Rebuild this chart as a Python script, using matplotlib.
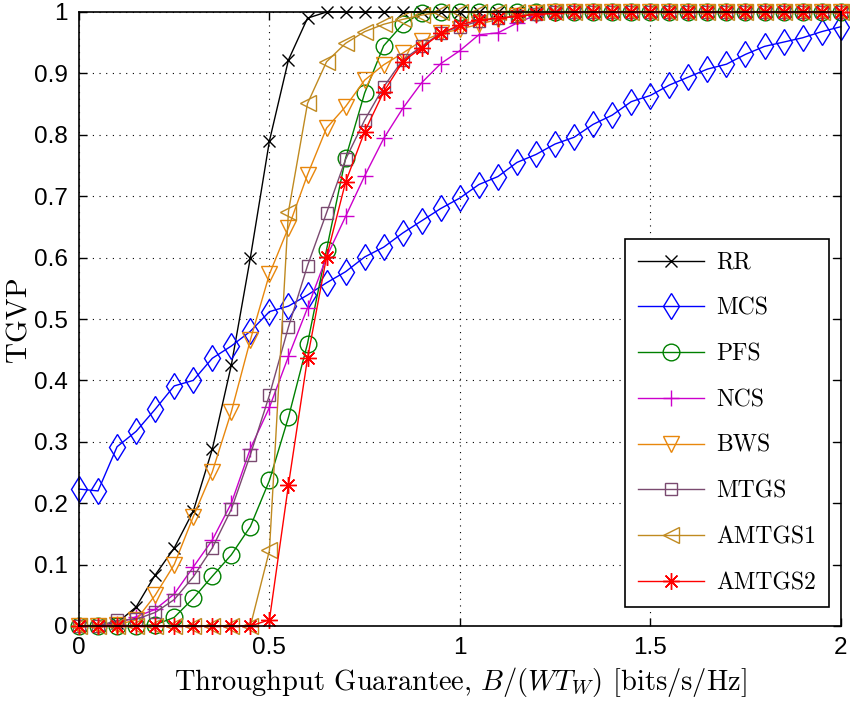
import matplotlib
matplotlib.use("Agg")
import matplotlib.pyplot as plt
import numpy as np

plt.rcParams['mathtext.fontset'] = 'cm'
plt.rcParams['axes.formatter.use_mathtext'] = True

x_vals = [0.00, 0.05, 0.10, 0.15, 0.20, 0.25, 0.30, 0.35, 0.40, 0.45,
          0.50, 0.55, 0.60, 0.65, 0.70, 0.75, 0.80, 0.85, 0.90, 0.95,
          1.00, 1.05, 1.10, 1.15, 1.20, 1.25, 1.30, 1.35, 1.40, 1.45,
          1.50, 1.55, 1.60, 1.65, 1.70, 1.75, 1.80, 1.85, 1.90, 1.95, 2.00]

rr = [0, 0, 0.005, 0.031, 0.083, 0.127, 0.187, 0.288, 0.425, 0.600,
      0.790, 0.922, 0.990, 1.0, 1.0, 1.0, 1.0, 1.0, 1.0, 1.0,
      1.0, 1.0, 1.0, 1.0, 1.0, 1.0, 1.0, 1.0, 1.0, 1.0,
      1.0, 1.0, 1.0, 1.0, 1.0, 1.0, 1.0, 1.0, 1.0, 1.0, 1.0]
mcs = [0.223, 0.220, 0.292, 0.317, 0.353, 0.391, 0.400, 0.436, 0.456, 0.480,
       0.512, 0.521, 0.539, 0.559, 0.577, 0.601, 0.617, 0.640, 0.660, 0.680,
       0.697, 0.719, 0.732, 0.755, 0.768, 0.785, 0.796, 0.817, 0.832, 0.854,
       0.864, 0.881, 0.894, 0.907, 0.915, 0.931, 0.944, 0.951, 0.958, 0.968, 0.976]
pfs = [0, 0, 0, 0, 0.002, 0.014, 0.045, 0.081, 0.116, 0.162,
       0.237, 0.340, 0.460, 0.613, 0.762, 0.868, 0.945, 0.980, 0.999, 1.0,
       1.0, 1.0, 1.0, 1.0, 1.0, 1.0, 1.0, 1.0, 1.0, 1.0,
       1.0, 1.0, 1.0, 1.0, 1.0, 1.0, 1.0, 1.0, 1.0, 1.0, 1.0]
ncs = [0, 0, 0.004, 0.015, 0.027, 0.052, 0.096, 0.140, 0.200, 0.289,
       0.356, 0.439, 0.518, 0.601, 0.667, 0.733, 0.794, 0.843, 0.885, 0.916,
       0.937, 0.963, 0.966, 0.982, 0.995, 1.0, 1.0, 1.0, 1.0, 1.0,
       1.0, 1.0, 1.0, 1.0, 1.0, 1.0, 1.0, 1.0, 1.0, 1.0, 1.0]
bws = [0, 0, 0.002, 0.010, 0.050, 0.100, 0.178, 0.251, 0.349, 0.466,
       0.573, 0.649, 0.735, 0.811, 0.846, 0.889, 0.914, 0.933, 0.953, 0.965,
       0.972, 0.980, 0.988, 0.994, 0.998, 1.0, 1.0, 1.0, 1.0, 1.0,
       1.0, 1.0, 1.0, 1.0, 1.0, 1.0, 1.0, 1.0, 1.0, 1.0, 1.0]
mtgs = [0, 0, 0.009, 0.011, 0.022, 0.043, 0.080, 0.127, 0.190, 0.279,
        0.376, 0.487, 0.587, 0.673, 0.760, 0.824, 0.878, 0.922, 0.944, 0.966,
        0.976, 0.985, 0.990, 0.993, 0.997, 1.0, 1.0, 1.0, 1.0, 1.0,
        1.0, 1.0, 1.0, 1.0, 1.0, 1.0, 1.0, 1.0, 1.0, 1.0, 1.0]
amtgs1 = [0, 0, 0, 0, 0, 0, 0, 0, 0, 0,
          0.123, 0.675, 0.851, 0.919, 0.949, 0.968, 0.980, 0.988, 0.995, 1.0,
          1.0, 1.0, 1.0, 1.0, 1.0, 1.0, 1.0, 1.0, 1.0, 1.0,
          1.0, 1.0, 1.0, 1.0, 1.0, 1.0, 1.0, 1.0, 1.0, 1.0, 1.0]
amtgs2 = [0, 0, 0, 0, 0, 0, 0, 0, 0, 0,
          0.010, 0.230, 0.436, 0.601, 0.723, 0.805, 0.870, 0.919, 0.942, 0.965,
          0.979, 0.987, 0.990, 0.993, 0.996, 0.998, 1.0, 1.0, 1.0, 1.0,
          1.0, 1.0, 1.0, 1.0, 1.0, 1.0, 1.0, 1.0, 1.0, 1.0, 1.0]

labels = ['RR', 'MCS', 'PFS', 'NCS', 'BWS', 'MTGS', 'AMTGS1', 'AMTGS2']
series = [rr, mcs, pfs, ncs, bws, mtgs, amtgs1, amtgs2]
colors = ['#000000', '#0000ff', '#008000', '#cc00cc', '#e8870c', '#7a4a70', '#c08a20', '#ff0000']
markers = ['x', 'd', 'o', '+', 'v', 's', '<', (8, 2, 0)]
msizes = [8.5, 13, 12, 11, 12, 9, 12, 12]

fig = plt.figure(figsize=(8.5, 7.09), dpi=100)
ax = fig.add_axes([79/850, 1-626/709, (840.7-79)/850, (626-12)/709])

for y, lab, c, m, ms in zip(series, labels, colors, markers, msizes):
    ax.plot(x_vals, y, color=c, lw=1.0, marker=m, ms=ms, mfc='none', mec=c,
            mew=1.0, label=lab, clip_on=False)

ax.set_xlim(0, 2)
ax.set_ylim(0, 1)
ax.set_xticks([0, 0.5, 1, 1.5, 2])
ax.set_xticklabels(['0', '0.5', '1', '1.5', '2'])
ax.set_yticks(np.arange(0, 11) / 10)
ax.set_yticklabels(['0', '0.1', '0.2', '0.3', '0.4', '0.5', '0.6', '0.7', '0.8', '0.9', '1'])
ax.tick_params(direction='in', length=6, width=1.0, top=True, right=True,
               labelsize=17.5, pad=8)
for t in ax.get_xticklabels() + ax.get_yticklabels():
    t.set_fontfamily('Liberation Sans')
ax.grid(True, linestyle=(0, (1, 5)), color='black', lw=0.8)
for s in ax.spines.values():
    s.set_linewidth(1.2)

ax.set_xlabel(r'Throughput Guarantee, $B/(WT_W)$ [bits/s/Hz]', fontfamily='cmr10',
              fontsize=20.5, labelpad=4)
ax.set_ylabel('TGVP', fontfamily='cmr10', fontsize=21)
ax.yaxis.set_label_coords(-0.061, 0.5)

leg = ax.legend(loc='lower right', bbox_to_anchor=(829/850, 1-607/709),
                bbox_transform=fig.transFigure, prop={'family': 'cmr10', 'size': 17},
                frameon=True, fancybox=False, edgecolor='black', framealpha=1,
                handlelength=2.8, labelspacing=1.0, borderpad=0.55, handletextpad=0.5,
                borderaxespad=0)
leg.get_frame().set_linewidth(1.2)

fig.savefig('out.png', dpi=100)
